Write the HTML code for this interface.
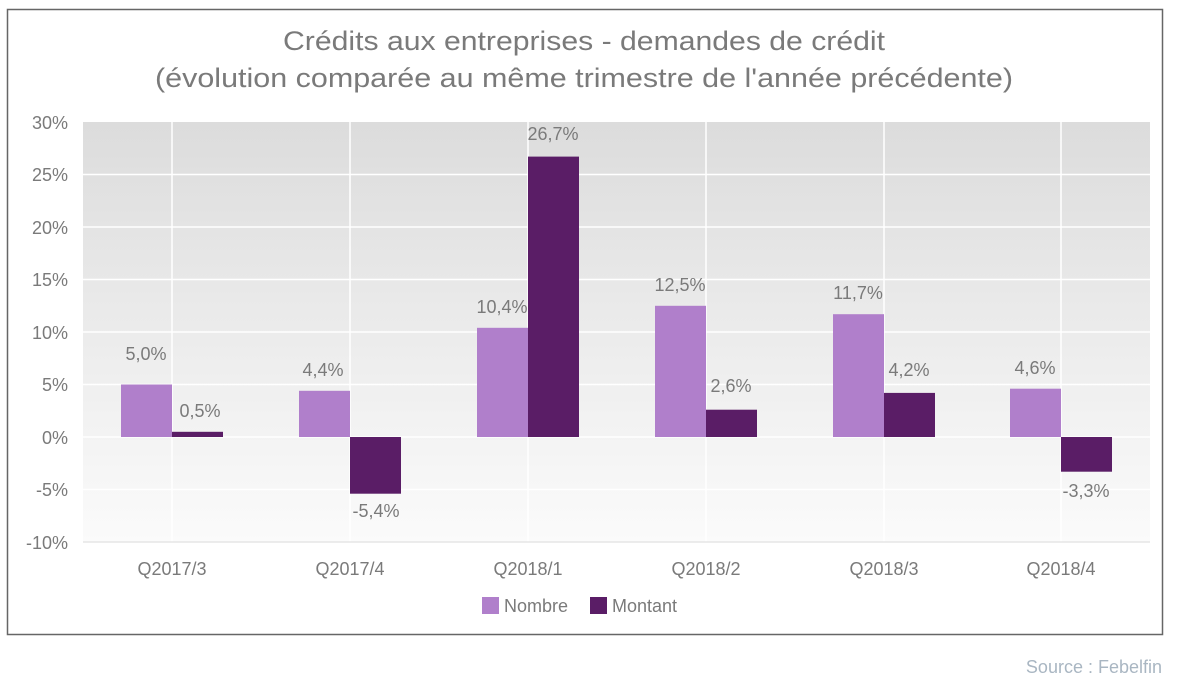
<!DOCTYPE html>
<html><head><meta charset="utf-8"><style>
body{margin:0;background:#fff;width:1183px;height:691px;overflow:hidden;font-family:"Liberation Sans",sans-serif;}
</style></head><body>
<svg width="1183" height="691" xmlns="http://www.w3.org/2000/svg" font-family="Liberation Sans, DejaVu Sans, sans-serif">
<defs><linearGradient id="bg" x1="0" y1="0" x2="0" y2="1">
<stop offset="0" stop-color="#dcdcdc"/><stop offset="1" stop-color="#fbfbfb"/></linearGradient></defs>
<rect x="7.5" y="9.5" width="1155" height="625" fill="#fff" stroke="#666" stroke-width="1.5"/>
<text x="283" y="50" font-size="27" fill="#7a7a7a" textLength="602" lengthAdjust="spacingAndGlyphs">Crédits aux entreprises - demandes de crédit</text>
<text x="155" y="87" font-size="27" fill="#7a7a7a" textLength="858" lengthAdjust="spacingAndGlyphs">(évolution comparée au même trimestre de l'année précédente)</text>
<rect x="83" y="122" width="1067" height="420" fill="url(#bg)"/>
<g stroke="#fff" stroke-width="1.5">
<line x1="83" x2="1150" y1="174.5" y2="174.5"/><line x1="83" x2="1150" y1="227" y2="227"/>
<line x1="83" x2="1150" y1="279.5" y2="279.5"/><line x1="83" x2="1150" y1="332" y2="332"/>
<line x1="83" x2="1150" y1="384.5" y2="384.5"/><line x1="83" x2="1150" y1="437" y2="437"/>
<line x1="83" x2="1150" y1="489.5" y2="489.5"/>
<line x1="172" x2="172" y1="122" y2="542"/><line x1="350" x2="350" y1="122" y2="542"/>
<line x1="528" x2="528" y1="122" y2="542"/><line x1="706" x2="706" y1="122" y2="542"/>
<line x1="884" x2="884" y1="122" y2="542"/><line x1="1061" x2="1061" y1="122" y2="542"/>
</g>
<line x1="83" x2="1150" y1="542" y2="542" stroke="#e6e6e6" stroke-width="1.5"/>
<g font-size="18" fill="#7a7a7a" text-anchor="end">
<text x="68" y="129">30%</text><text x="68" y="181">25%</text><text x="68" y="234">20%</text>
<text x="68" y="286">15%</text><text x="68" y="339">10%</text><text x="68" y="391">5%</text>
<text x="68" y="444">0%</text><text x="68" y="496">-5%</text><text x="68" y="549">-10%</text>
</g>
<g fill="#b07fcb">
<rect x="121" y="384.5" width="51" height="52.5"/>
<rect x="299" y="390.8" width="51" height="46.2"/>
<rect x="477" y="327.8" width="51" height="109.2"/>
<rect x="655" y="305.8" width="51" height="131.2"/>
<rect x="833" y="314.2" width="51" height="122.8"/>
<rect x="1010" y="388.7" width="51" height="48.3"/>
</g>
<g fill="#5a1d66">
<rect x="172" y="431.8" width="51" height="5.2"/>
<rect x="350" y="437" width="51" height="56.7"/>
<rect x="528" y="156.6" width="51" height="280.4"/>
<rect x="706" y="409.7" width="51" height="27.3"/>
<rect x="884" y="392.9" width="51" height="44.1"/>
<rect x="1061" y="437" width="51" height="34.7"/>
</g>
<g font-size="18" fill="#7a7a7a" text-anchor="middle">
<text x="146" y="360">5,0%</text><text x="200" y="417">0,5%</text>
<text x="323" y="376">4,4%</text><text x="376" y="517">-5,4%</text>
<text x="502" y="313">10,4%</text><text x="553" y="140">26,7%</text>
<text x="680" y="291">12,5%</text><text x="731" y="392">2,6%</text>
<text x="858" y="299">11,7%</text><text x="909" y="376">4,2%</text>
<text x="1035" y="374">4,6%</text><text x="1086" y="497">-3,3%</text>
</g>
<g font-size="18" fill="#7a7a7a" text-anchor="middle">
<text x="172" y="575">Q2017/3</text><text x="350" y="575">Q2017/4</text>
<text x="528" y="575">Q2018/1</text><text x="706" y="575">Q2018/2</text>
<text x="884" y="575">Q2018/3</text><text x="1061" y="575">Q2018/4</text>
</g>
<rect x="482" y="597" width="17" height="17" fill="#b07fcb"/>
<text x="504" y="612" font-size="18" fill="#7a7a7a">Nombre</text>
<rect x="590" y="597" width="17" height="17" fill="#5a1d66"/>
<text x="612" y="612" font-size="18" fill="#7a7a7a">Montant</text>
<text x="1162" y="673" text-anchor="end" font-size="18" fill="#a9b6c2">Source : Febelfin</text>
</svg>
</body></html>
